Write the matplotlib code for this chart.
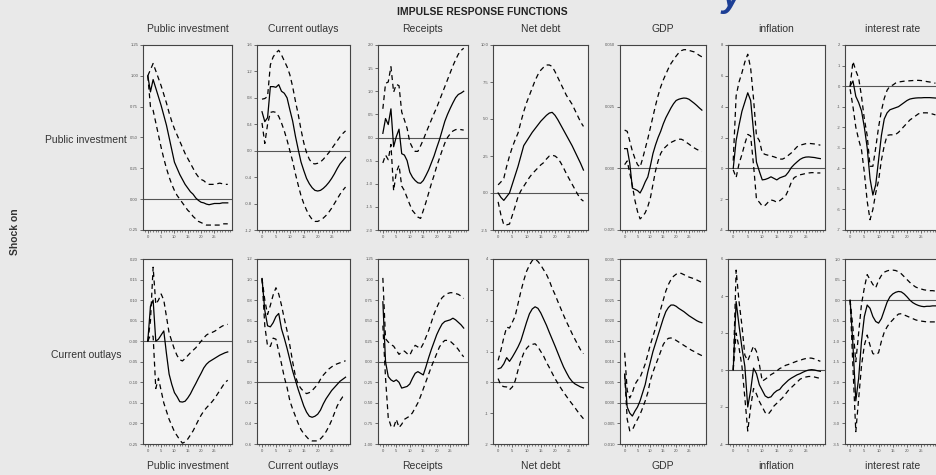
import numpy as np
import matplotlib
matplotlib.use("Agg")
import matplotlib.pyplot as plt
from matplotlib.ticker import MultipleLocator, FixedLocator

plt.rcParams['font.family'] = ['Liberation Sans', 'DejaVu Sans']

# horizons
h = np.arange(31)

variables = ["Public investment", "Current outlays", "Receipts", "Net debt",
             "GDP", "inflation", "interest rate"]
shocks = ["Public investment", "Current outlays"]

# ---- shock on public investment ----
pi_pi_mid = [1.00, 0.87, 0.97, 0.90, 0.83, 0.76, 0.68, 0.60, 0.50, 0.40, 0.30, 0.25, 0.20, 0.16, 0.12, 0.09,
             0.06, 0.04, 0.01, -0.01, -0.025, -0.03, -0.04, -0.045, -0.04, -0.035, -0.035, -0.035, -0.03, -0.03, -0.03]
pi_pi_up = [1.00, 1.05, 1.10, 1.04, 0.98, 0.92, 0.85, 0.78, 0.70, 0.63, 0.57, 0.52, 0.47, 0.42, 0.37, 0.33,
            0.29, 0.25, 0.21, 0.18, 0.16, 0.15, 0.13, 0.12, 0.12, 0.12, 0.125, 0.13, 0.125, 0.12, 0.12]
pi_pi_lo = [1.00, 0.75, 0.72, 0.62, 0.52, 0.42, 0.33, 0.25, 0.18, 0.12, 0.07, 0.03, 0.00, -0.03, -0.06, -0.09,
            -0.11, -0.14, -0.16, -0.18, -0.19, -0.20, -0.21, -0.21, -0.21, -0.21, -0.21, -0.21, -0.20, -0.20, -0.20]

pi_co_mid = [0.59, 0.44, 0.50, 0.97, 0.97, 0.96, 1.00, 0.90, 0.87, 0.80, 0.62, 0.45, 0.22, 0.02, -0.17, -0.30,
             -0.42, -0.50, -0.56, -0.60, -0.61, -0.60, -0.57, -0.53, -0.48, -0.42, -0.35, -0.27, -0.20, -0.15, -0.10]
pi_co_up = [0.78, 0.79, 0.82, 1.30, 1.42, 1.48, 1.52, 1.45, 1.36, 1.27, 1.15, 0.97, 0.75, 0.55, 0.32, 0.12,
            -0.03, -0.13, -0.19, -0.20, -0.19, -0.17, -0.13, -0.08, -0.03, 0.03, 0.09, 0.15, 0.21, 0.26, 0.30]
pi_co_lo = [0.42, 0.11, 0.40, 0.58, 0.59, 0.58, 0.52, 0.42, 0.30, 0.16, 0.00, -0.16, -0.35, -0.52, -0.68, -0.80,
            -0.90, -0.98, -1.04, -1.07, -1.07, -1.05, -1.02, -0.98, -0.93, -0.87, -0.80, -0.73, -0.66, -0.60, -0.55]

pi_re_mid = [0.09, 0.41, 0.28, 0.62, -0.20, 0.02, 0.18, -0.35, -0.38, -0.50, -0.75, -0.86, -0.93, -0.98, -0.99, -0.93,
             -0.82, -0.70, -0.55, -0.40, -0.22, -0.05, 0.15, 0.35, 0.50, 0.63, 0.75, 0.86, 0.93, 0.96, 1.00]
pi_re_up = [0.62, 1.17, 1.20, 1.53, 0.98, 1.15, 1.12, 0.55, 0.38, 0.20, -0.10, -0.22, -0.30, -0.30, -0.18, -0.05,
            0.10, 0.24, 0.38, 0.52, 0.65, 0.80, 0.95, 1.10, 1.25, 1.40, 1.55, 1.68, 1.80, 1.88, 1.93]
pi_re_lo = [-0.55, -0.38, -0.48, -0.15, -1.15, -0.75, -0.60, -1.05, -1.15, -1.30, -1.45, -1.58, -1.65, -1.72, -1.75, -1.58,
            -1.40, -1.20, -1.00, -0.82, -0.62, -0.45, -0.28, -0.12, 0.00, 0.08, 0.14, 0.17, 0.18, 0.17, 0.16]

pi_nd_mid = [0.0, -0.3, -0.5, -0.25, 0.0, 0.6, 1.2, 1.8, 2.5, 3.2, 3.5, 3.8, 4.1, 4.35, 4.6, 4.85,
             5.05, 5.25, 5.40, 5.45, 5.25, 4.95, 4.6, 4.25, 3.9, 3.55, 3.2, 2.8, 2.4, 2.0, 1.55]
pi_nd_up = [0.55, 0.75, 1.0, 1.8, 2.5, 3.1, 3.6, 4.05, 4.8, 5.5, 6.1, 6.6, 7.1, 7.6, 8.0, 8.3,
            8.5, 8.65, 8.65, 8.55, 8.2, 7.8, 7.4, 7.0, 6.6, 6.3, 6.0, 5.6, 5.2, 4.8, 4.5]
pi_nd_lo = [-0.6, -1.5, -2.15, -2.15, -2.1, -1.5, -0.9, -0.25, 0.15, 0.45, 0.75, 1.05, 1.3, 1.5, 1.7, 1.9,
            2.05, 2.3, 2.5, 2.55, 2.5, 2.35, 2.05, 1.7, 1.3, 0.95, 0.6, 0.25, -0.1, -0.4, -0.55]

pi_gdp_mid = [0.0080, 0.0080, 0.0020, -0.0080, -0.0085, -0.0090, -0.0100, -0.0080, -0.0055, -0.0035, 0.0010,
              0.0060, 0.0095, 0.0125, 0.0150, 0.0180, 0.0205, 0.0225, 0.0245, 0.0262, 0.0275, 0.0280, 0.0283,
              0.0285, 0.0284, 0.0280, 0.0272, 0.0264, 0.0255, 0.0245, 0.0236]
pi_gdp_up = [0.0155, 0.0150, 0.0110, 0.0070, 0.0040, 0.0015, 0.0005, 0.0040, 0.0080, 0.0120, 0.0165,
             0.0210, 0.0255, 0.0295, 0.0330, 0.0358, 0.0382, 0.0405, 0.0425, 0.0440, 0.0455, 0.0468, 0.0477,
             0.0481, 0.0481, 0.0478, 0.0475, 0.0472, 0.0465, 0.0458, 0.0452]
pi_gdp_lo = [0.0015, 0.0030, -0.0020, -0.0070, -0.0130, -0.0175, -0.0205, -0.0195, -0.0180, -0.0155, -0.0120,
             -0.0065, -0.0010, 0.0030, 0.0060, 0.0078, 0.0088, 0.0098, 0.0105, 0.0110, 0.0115, 0.0118, 0.0118,
             0.0113, 0.0105, 0.0098, 0.0090, 0.0083, 0.0077, 0.0072, 0.0068]

pi_inf_mid = [0.0, 1.8, 2.8, 3.7, 4.3, 4.9, 4.4, 2.4, 0.4, -0.2, -0.75, -0.72, -0.65, -0.55, -0.65, -0.75,
              -0.62, -0.55, -0.48, -0.25, 0.05, 0.25, 0.42, 0.58, 0.68, 0.73, 0.74, 0.72, 0.70, 0.66, 0.63]
pi_inf_up = [0.5, 4.7, 5.6, 6.2, 6.9, 7.4, 6.5, 4.5, 2.1, 1.8, 1.0, 0.9, 0.85, 0.8, 0.75, 0.68,
             0.6, 0.6, 0.7, 0.85, 1.0, 1.2, 1.4, 1.5, 1.55, 1.6, 1.62, 1.6, 1.58, 1.55, 1.5]
pi_inf_lo = [-0.1, -0.6, 0.3, 0.9, 1.6, 2.2, 2.1, 0.2, -2.0, -2.2, -2.45, -2.4, -2.2, -2.05, -2.1, -2.2,
             -2.1, -1.95, -1.8, -1.4, -0.9, -0.6, -0.5, -0.42, -0.38, -0.33, -0.3, -0.28, -0.28, -0.3, -0.3]

pi_ir_mid = [0.0, 0.25, -0.5, -0.8, -1.2, -2.0, -3.0, -4.5, -5.3, -4.8, -3.6, -2.4, -1.6, -1.3, -1.15, -1.1,
             -1.05, -1.0, -0.9, -0.8, -0.7, -0.63, -0.6, -0.58, -0.57, -0.57, -0.56, -0.56, -0.56, -0.57, -0.58]
pi_ir_up = [0.0, 1.2, 0.75, 0.4, -0.5, -1.6, -2.4, -3.9, -3.9, -3.0, -2.0, -1.2, -0.6, -0.2, 0.0, 0.05,
            0.15, 0.2, 0.22, 0.24, 0.25, 0.26, 0.27, 0.28, 0.28, 0.27, 0.25, 0.22, 0.2, 0.17, 0.14]
pi_ir_lo = [-0.15, -1.0, -2.0, -2.6, -3.1, -4.2, -5.6, -6.5, -6.0, -5.2, -4.6, -3.6, -2.9, -2.4, -2.37, -2.37,
            -2.35, -2.25, -2.1, -1.95, -1.8, -1.65, -1.55, -1.45, -1.35, -1.3, -1.3, -1.3, -1.32, -1.36, -1.4]

# ---- shock on current outlays ----
co_pi_mid = [0.0, 0.085, 0.10, 0.0, 0.005, 0.015, 0.025, -0.03, -0.08, -0.105, -0.125, -0.135, -0.147, -0.148,
             -0.146, -0.138, -0.128, -0.115, -0.103, -0.09, -0.078, -0.065, -0.056, -0.050, -0.046, -0.042,
             -0.038, -0.034, -0.031, -0.028, -0.026]
co_pi_up = [0.0, 0.05, 0.18, 0.09, 0.10, 0.115, 0.10, 0.06, 0.02, 0.0, -0.02, -0.035, -0.045, -0.048, -0.042,
            -0.035, -0.028, -0.022, -0.016, -0.008, 0.0, 0.008, 0.015, 0.019, 0.021, 0.024, 0.028, 0.033, 0.037,
            0.040, 0.041]
co_pi_lo = [0.0, 0.015, 0.012, -0.115, -0.09, -0.12, -0.15, -0.17, -0.19, -0.205, -0.22, -0.23, -0.24, -0.248,
            -0.245, -0.238, -0.228, -0.218, -0.205, -0.192, -0.18, -0.17, -0.162, -0.155, -0.148, -0.14, -0.13,
            -0.12, -0.11, -0.1, -0.095]

co_co_mid = [1.01, 0.70, 0.55, 0.54, 0.58, 0.64, 0.67, 0.52, 0.43, 0.33, 0.22, 0.11, 0.02, -0.07, -0.15, -0.23,
             -0.29, -0.33, -0.34, -0.33, -0.31, -0.27, -0.21, -0.16, -0.12, -0.08, -0.05, -0.02, 0.01, 0.03, 0.05]
co_co_up = [1.01, 0.80, 0.66, 0.75, 0.85, 0.92, 0.86, 0.75, 0.62, 0.50, 0.36, 0.20, 0.06, -0.02, -0.06, -0.09,
            -0.11, -0.10, -0.08, -0.05, -0.02, 0.03, 0.07, 0.10, 0.13, 0.15, 0.17, 0.18, 0.19, 0.20, 0.21]
co_co_lo = [1.01, 0.55, 0.35, 0.35, 0.43, 0.42, 0.30, 0.18, 0.05, -0.05, -0.18, -0.26, -0.33, -0.40, -0.46, -0.50,
            -0.53, -0.56, -0.57, -0.57, -0.57, -0.55, -0.52, -0.48, -0.43, -0.37, -0.30, -0.23, -0.18, -0.14, -0.12]

co_re_mid = [0.73, 0.0, -0.18, -0.22, -0.24, -0.22, -0.25, -0.32, -0.31, -0.30, -0.27, -0.20, -0.14, -0.12, -0.14,
             -0.16, -0.06, 0.05, 0.15, 0.24, 0.33, 0.40, 0.46, 0.49, 0.50, 0.51, 0.53, 0.51, 0.48, 0.45, 0.41]
co_re_up = [1.02, 0.28, 0.24, 0.21, 0.19, 0.14, 0.09, 0.12, 0.13, 0.10, 0.08, 0.15, 0.20, 0.18, 0.16, 0.22,
            0.30, 0.38, 0.48, 0.58, 0.66, 0.73, 0.78, 0.81, 0.83, 0.84, 0.84, 0.83, 0.82, 0.80, 0.77]
co_re_lo = [0.44, -0.20, -0.68, -0.78, -0.80, -0.70, -0.80, -0.76, -0.70, -0.68, -0.66, -0.62, -0.56, -0.50, -0.42,
            -0.33, -0.24, -0.15, -0.06, 0.02, 0.10, 0.18, 0.23, 0.26, 0.26, 0.25, 0.22, 0.19, 0.15, 0.10, 0.06]

co_nd_mid = [0.44, 0.47, 0.60, 0.80, 0.68, 0.82, 0.98, 1.15, 1.35, 1.65, 1.95, 2.22, 2.38, 2.45, 2.40, 2.25,
             2.05, 1.85, 1.62, 1.40, 1.18, 0.95, 0.72, 0.50, 0.32, 0.15, 0.03, -0.05, -0.10, -0.15, -0.18]
co_nd_up = [0.71, 1.05, 1.45, 1.79, 1.76, 1.95, 2.15, 2.55, 2.95, 3.30, 3.60, 3.80, 3.95, 4.0, 3.92, 3.80,
            3.65, 3.50, 3.30, 3.05, 2.85, 2.62, 2.40, 2.18, 1.97, 1.78, 1.58, 1.40, 1.22, 1.05, 0.93]
co_nd_lo = [0.12, -0.10, -0.14, -0.15, -0.24, -0.15, 0.05, 0.40, 0.70, 0.95, 1.10, 1.20, 1.23, 1.25, 1.15, 1.00,
            0.85, 0.65, 0.48, 0.30, 0.12, -0.03, -0.18, -0.32, -0.45, -0.58, -0.70, -0.82, -0.95, -1.07, -1.18]

co_gdp_mid = [0.0070, -0.0010, -0.0025, -0.0032, -0.0020, -0.0010, 0.0005, 0.0025, 0.0045, 0.0075, 0.0100,
              0.0125, 0.0145, 0.0165, 0.0185, 0.0205, 0.0222, 0.0232, 0.0238, 0.0238, 0.0235, 0.0230, 0.0226,
              0.0222, 0.0217, 0.0212, 0.0208, 0.0204, 0.0200, 0.0197, 0.0195]
co_gdp_up = [0.0122, 0.0030, 0.0012, 0.0025, 0.0045, 0.0055, 0.0062, 0.0078, 0.0095, 0.0118, 0.0142,
             0.0162, 0.0182, 0.0205, 0.0228, 0.0250, 0.0272, 0.0288, 0.0300, 0.0308, 0.0313, 0.0316, 0.0315,
             0.0312, 0.0309, 0.0306, 0.0304, 0.0302, 0.0299, 0.0296, 0.0293]
co_gdp_lo = [0.0070, -0.0040, -0.0068, -0.0066, -0.0052, -0.0040, -0.0028, -0.0012, 0.0005, 0.0025, 0.0055,
             0.0075, 0.0092, 0.0108, 0.0125, 0.0142, 0.0152, 0.0157, 0.0158, 0.0156, 0.0152, 0.0148, 0.0144,
             0.0140, 0.0136, 0.0132, 0.0128, 0.0125, 0.0121, 0.0118, 0.0115]

co_inf_mid = [0.0, 3.7, 2.4, 1.2, 0.2, -2.0, -1.1, 0.1, -0.2, -0.8, -1.1, -1.4, -1.5, -1.45, -1.25, -1.12,
              -1.05, -0.85, -0.7, -0.55, -0.44, -0.35, -0.26, -0.2, -0.12, -0.05, 0.0, 0.02, 0.0, -0.04, -0.07]
co_inf_up = [0.0, 5.4, 3.7, 2.4, 0.8, 0.5, 0.9, 1.3, 1.0, 0.3, -0.6, -0.5, -0.38, -0.25, -0.16, -0.05,
             0.08, 0.15, 0.25, 0.3, 0.36, 0.42, 0.48, 0.52, 0.58, 0.62, 0.65, 0.64, 0.60, 0.53, 0.47]
co_inf_lo = [0.0, 2.0, 1.2, 0.2, -1.5, -3.3, -2.0, -1.0, -1.3, -1.7, -2.0, -2.3, -2.4, -2.2, -1.95, -1.8,
             -1.65, -1.5, -1.3, -1.1, -0.95, -0.8, -0.65, -0.5, -0.42, -0.38, -0.35, -0.35, -0.38, -0.42, -0.45]

co_ir_mid = [0.0, -1.1, -2.45, -1.9, -1.0, -0.4, -0.12, -0.2, -0.4, -0.52, -0.56, -0.45, -0.25, -0.05, 0.08, 0.15,
             0.19, 0.21, 0.2, 0.15, 0.08, 0.0, -0.06, -0.1, -0.13, -0.15, -0.16, -0.15, -0.15, -0.14, -0.14]
co_ir_up = [0.0, -0.68, -1.5, -0.8, -0.1, 0.3, 0.62, 0.5, 0.38, 0.3, 0.48, 0.6, 0.68, 0.71, 0.73, 0.73,
            0.72, 0.69, 0.64, 0.57, 0.5, 0.43, 0.37, 0.32, 0.29, 0.27, 0.25, 0.24, 0.23, 0.23, 0.22]
co_ir_lo = [0.0, -1.65, -3.2, -2.4, -1.6, -1.1, -0.85, -1.1, -1.3, -1.33, -1.28, -1.0, -0.78, -0.65, -0.55, -0.48,
            -0.4, -0.34, -0.33, -0.36, -0.39, -0.42, -0.45, -0.48, -0.5, -0.51, -0.52, -0.53, -0.53, -0.53, -0.53]

# y axis ranges and tick steps per panel
row1_ylim = [(-0.25, 1.25, 0.25), (-1.2, 1.6, 0.4), (-2.0, 2.0, 0.5), (-2.5, 10.0, 2.5),
             (-0.025, 0.050, 0.025), (-4, 8, 2), (-7, 2, 1)]
row2_ylim = [(-0.25, 0.20, 0.05), (-0.6, 1.2, 0.2), (-1.0, 1.25, 0.25), (-2, 4, 1),
             (-0.010, 0.035, 0.005), (-4, 6, 2), (-3.5, 1.0, 0.5)]
row1_fmt = ["%.2f", "%.1f", "%.1f", "%.1f", "%.3f", "%d", "%d"]
row2_fmt = ["%.2f", "%.1f", "%.2f", "%d", "%.3f", "%d", "%.1f"]

rows = [
    [(pi_pi_mid, pi_pi_up, pi_pi_lo), (pi_co_mid, pi_co_up, pi_co_lo), (pi_re_mid, pi_re_up, pi_re_lo),
     (pi_nd_mid, pi_nd_up, pi_nd_lo), (pi_gdp_mid, pi_gdp_up, pi_gdp_lo), (pi_inf_mid, pi_inf_up, pi_inf_lo),
     (pi_ir_mid, pi_ir_up, pi_ir_lo)],
    [(co_pi_mid, co_pi_up, co_pi_lo), (co_co_mid, co_co_up, co_co_lo), (co_re_mid, co_re_up, co_re_lo),
     (co_nd_mid, co_nd_up, co_nd_lo), (co_gdp_mid, co_gdp_up, co_gdp_lo), (co_inf_mid, co_inf_up, co_inf_lo),
     (co_ir_mid, co_ir_up, co_ir_lo)],
]

W, H = 937, 475
fig = plt.figure(figsize=(W / 100, H / 100), dpi=100)
fig.patch.set_facecolor('#e9e9e9')

# panel edges in pixels
col_x = [(143, 232), (257, 350), (378, 468), (493, 588), (620, 706), (728, 825), (845, 940)]
row_y = [(45, 230), (259, 444)]

for r in range(2):
    lims = row1_ylim if r == 0 else row2_ylim
    fmts = row1_fmt if r == 0 else row2_fmt
    for c in range(7):
        x0, x1 = col_x[c]
        y0, y1 = row_y[r]
        ax = fig.add_axes([x0 / W, 1 - y1 / H, (x1 - x0) / W, (y1 - y0) / H])
        ax.set_facecolor('#f3f3f3')
        mid, up, lo = rows[r][c]
        ax.axhline(0, color='#555555', lw=0.8)
        ax.plot(h, up, color='black', lw=0.9, dashes=(4, 3))
        ax.plot(h, lo, color='black', lw=0.9, dashes=(4, 3))
        ax.plot(h, mid, color='black', lw=0.9)
        lo_, hi_, st = lims[c]
        ax.set_ylim(lo_, hi_)
        ax.set_xlim(-1.8, 31.6)
        ax.yaxis.set_major_locator(FixedLocator(np.arange(lo_, hi_ + st / 2, st)))
        ax.yaxis.set_major_formatter(plt.FormatStrFormatter(fmts[c]))
        ax.xaxis.set_major_locator(FixedLocator([0, 5, 10, 15, 20, 25]))
        ax.xaxis.set_minor_locator(MultipleLocator(1))
        ax.tick_params(axis='both', which='major', direction='out', length=2, width=0.6,
                       labelsize=3, colors='#555555', pad=1.5)
        ax.tick_params(axis='x', which='minor', direction='out', length=1.5, width=0.5, colors='#555555')
        for s in ax.spines.values():
            s.set_color('#444444')
            s.set_linewidth(0.8)

# column titles top and bottom
for c in range(7):
    cx = (col_x[c][0] + col_x[c][1]) / 2 / W
    fig.text(cx, 1 - 29 / H, variables[c], ha='center', va='center', fontsize=7.5, color='#333333')
    fig.text(cx, 1 - 466 / H, variables[c], ha='center', va='center', fontsize=7.5, color='#333333')

# row labels
fig.text(127 / W, 1 - 140 / H, shocks[0], ha='right', va='center', fontsize=7.5, color='#333333')
fig.text(122 / W, 1 - 355 / H, shocks[1], ha='right', va='center', fontsize=7.5, color='#333333')
fig.text(15 / W, 1 - 232 / H, "Shock on", rotation=90, ha='center', va='center',
         fontsize=7.5, fontweight='bold', color='#333333')

fig.text(482 / W, 1 - 12 / H, "IMPULSE RESPONSE FUNCTIONS", ha='center', va='center',
         fontsize=7.5, fontweight='bold', color='#222222')

# cut-off blue heading at the top edge
fig.text(722 / W, 1 - 6 / H, "y", ha='left', va='baseline', fontsize=26,
         fontweight='bold', fontstyle='italic', color='#1d3f95')

fig.savefig("out.png", dpi=100, facecolor=fig.get_facecolor())
